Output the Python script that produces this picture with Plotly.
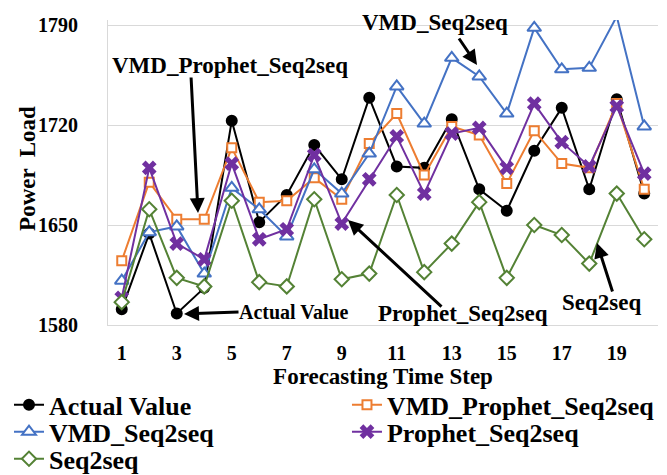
import plotly.graph_objects as go

steps = list(range(1, 21))
actual = [1591, 1644, 1588, 1606, 1723, 1652, 1671, 1706, 1682, 1739,
          1691, 1690, 1724, 1675, 1660, 1702, 1732, 1675, 1738, 1672]
vmd_prophet = [1625, 1680, 1654, 1654, 1704, 1666, 1667, 1683, 1668, 1707,
               1728, 1685, 1719, 1713, 1679, 1716, 1693, 1690, 1735, 1675]
vmd_seq = [1611, 1645, 1649, 1616, 1676, 1661, 1642, 1689, 1672, 1700,
           1747, 1721, 1767, 1754, 1728, 1788, 1759, 1760, 1796, 1719]
prophet_seq = [1599, 1690, 1637, 1626, 1693, 1640, 1647, 1699, 1651, 1682,
               1712, 1672, 1714, 1718, 1690, 1735, 1708, 1691, 1733, 1686]
seq2seq = [1596, 1661, 1613, 1607, 1667, 1610, 1607, 1668, 1612, 1616,
           1671, 1617, 1637, 1666, 1613, 1650, 1643, 1623, 1672, 1640]

xticks = [1, 3, 5, 7, 9, 11, 13, 15, 17, 19]
yticks = [1580, 1650, 1720, 1790]

FONT = "Liberation Serif"

fig = go.Figure()

def add(name, y, color, symbol, size, fill, legend, lw=2, mlw=2):
    fig.add_trace(go.Scatter(
        x=steps, y=y, name=name, mode="lines+markers",
        line=dict(color=color, width=lw),
        marker=dict(symbol=symbol, size=size, color=fill,
                    line=dict(color=color, width=mlw)),
        cliponaxis=False, legend=legend,
    ))

add("Actual Value", actual, "#000000", "circle", 10, "#000000", "legend")
add("VMD_Prophet_Seq2seq", vmd_prophet, "#ED7D31", "square", 9, "white", "legend2")
add("VMD_Seq2seq", vmd_seq, "#4472C4", "triangle-up", 12, "white", "legend3")
add("Prophet_Seq2seq", prophet_seq, "#7030A0", "x", 13, "#7030A0", "legend4", mlw=0)
add("Seq2seq", seq2seq, "#548235", "diamond", 11, "white", "legend5")

# arrows: (head x, head y, ax px, ay px)
arrows = [
    (3.773, 1658.4, -7, -137),
    (13.918, 1762.0, -19, -28),
    (3.264, 1587.7, 56, -2),
    (9.227, 1653.5, 95, 88),
    (18.28, 1637.4, 16, 50),
]
for hx, hy, ax, ay in arrows:
    fig.add_annotation(x=hx, y=hy, ax=ax, ay=ay, text="", showarrow=True,
                       arrowhead=2, arrowsize=1, arrowwidth=3,
                       arrowcolor="black", standoff=0, startstandoff=0)

labels = [
    ("VMD_Prophet_Seq2seq", 4.936, 1762.0, 23),
    ("VMD_Seq2seq", 12.39, 1792.1, 23),
    ("Actual Value", 7.264, 1589.1, 20),
    ("Prophet_Seq2seq", 13.41, 1588.4, 23),
    ("Seq2seq", 18.46, 1596.1, 23),
]
for t, x, y, s in labels:
    fig.add_annotation(x=x, y=y, text=t, showarrow=False,
                       font=dict(family=FONT, size=s, color="black", weight="bold"))

# y-axis title as rotated text
fig.add_annotation(x=-0.1455, y=0.515, xref="paper", yref="paper",
                   xanchor="center", yanchor="middle",
                   text="Power  Load", textangle=-90, showarrow=False,
                   font=dict(family=FONT, size=23, color="black", weight="bold"))

leg_font = dict(family=FONT, size=26, color="black", weight="bold")
col1, col2 = -0.18, 0.4345
row1, row2, row3 = -0.262, -0.350, -0.439

def leg(x, y):
    return dict(orientation="h", x=x, xanchor="left", y=y, yanchor="middle",
                font=leg_font, itemwidth=30, bgcolor="rgba(0,0,0,0)")

fig.update_layout(
    width=667, height=475,
    margin=dict(l=108, r=9, t=20, b=150, autoexpand=False),
    paper_bgcolor="white", plot_bgcolor="white",
    font=dict(family=FONT, size=20, color="black", weight="bold"),
    showlegend=True,
    legend=leg(col1, row1),
    legend2=leg(col2, row1),
    legend3=leg(col1, row2),
    legend4=leg(col2, row2),
    legend5=leg(col1, row3),
    xaxis=dict(range=[0.5, 20.5], tickvals=xticks, ticktext=[str(v) for v in xticks],
               showgrid=False, showline=True, linecolor="#D9D9D9", linewidth=1,
               ticks="", ticklabelstandoff=10, zeroline=False,
               title=dict(text="Forecasting Time Step", standoff=4,
                          font=dict(family=FONT, size=23, weight="bold"))),
    yaxis=dict(range=[1580, 1793.5], tickvals=yticks,
               showgrid=True, gridcolor="#D9D9D9", gridwidth=1,
               showline=True, linecolor="#D9D9D9", linewidth=1,
               ticks="outside", ticklen=25, tickcolor="rgba(0,0,0,0)",
               zeroline=False),
)

fig.write_html("out.html")
